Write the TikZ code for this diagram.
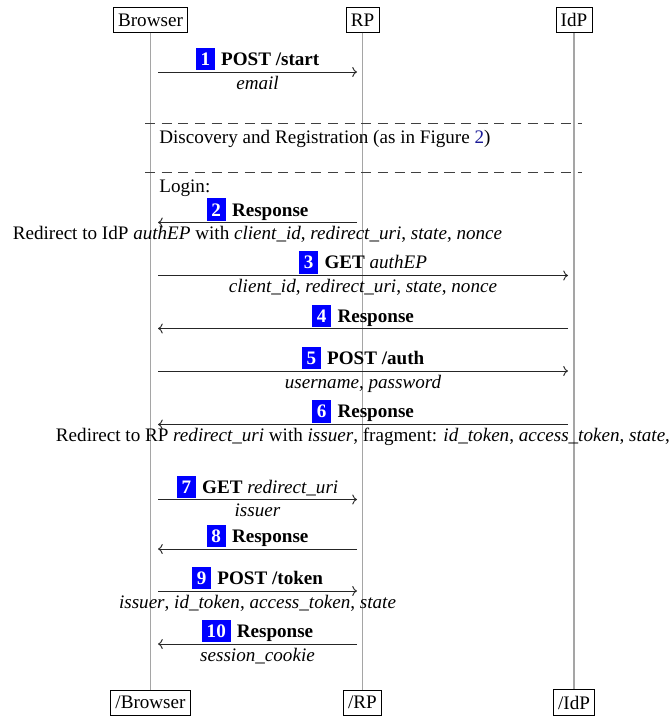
\documentclass[tikz,border=0pt]{standalone}
\usepackage{fontspec}
\setmainfont{Liberation Serif}
\usetikzlibrary{arrows.meta}
\definecolor{lifeline}{RGB}{165,165,165}
\definecolor{figref}{RGB}{25,25,150}
\newcommand{\stepnum}[1]{{\setlength{\fboxsep}{2.7pt}\colorbox{blue}{\textcolor{white}{\textbf{#1}}}}\hspace{3.3pt}}
\begin{document}
\begin{tikzpicture}[x=0.547pt, y=-0.547pt, font=\fontsize{10.45}{12.5}\selectfont,
  actor/.style={draw, line width=0.4pt, inner xsep=2.6pt, inner ysep=3.3pt, fill=white},
  life/.style={draw=lifeline, line width=0.6pt},
  msg/.style={draw=black!85, line width=0.5pt, -{To[length=2.6pt,width=5.5pt]}},
  head/.style={above, inner sep=0.6pt},
  body/.style={below, inner sep=1.5pt, text height=7.6pt, text depth=2pt},
  sep/.style={draw=black!75, line width=0.5pt, dash pattern=on 5.5pt off 3.6pt},
  note/.style={anchor=base west, inner sep=0pt}]
\useasboundingbox (0,0) rectangle (669,717);

% participants
\node[actor] (browser) at (150.5,20) {Browser};
\node[actor] (rp) at (362.5,20) {RP};
\node[actor] (idp) at (574,20) {IdP};
\node[actor] (browserEnd) at (150.5,702.5) {/Browser};
\node[actor] (rpEnd) at (362.5,702.5) {/RP};
\node[actor] (idpEnd) at (574,702.5) {/IdP};

% lifelines
\draw[life] (browser) -- (browserEnd);
\draw[life] (rp) -- (rpEnd);
\draw[life] (idp) -- (idpEnd);

% 1
\coordinate (m1a) at (158,72); \coordinate (m1b) at (357,72);
\draw[msg] (m1a) -- node[head]{\stepnum{1}\textbf{POST /start}} node[body]{\textit{email}} (m1b);

% discovery / login separators
\coordinate (d1a) at (145,123); \coordinate (d1b) at (582,123);
\draw[sep] (d1a) -- (d1b);
\node[note] (disc) at (159,143.5) {Discovery and Registration (as in Figure \textcolor{figref}{2})};
\coordinate (d2a) at (145,172); \coordinate (d2b) at (582,172);
\draw[sep] (d2a) -- (d2b);
\node[note] (login) at (159,193) {Login:};

% 2
\coordinate (m2a) at (357,222.5); \coordinate (m2b) at (158,222.5);
\draw[msg] (m2a) -- node[head]{\stepnum{2}\textbf{Response}}
  node[body]{Redirect to IdP \textit{authEP} with \textit{client\_id}, \textit{redirect\_uri}, \textit{state}, \textit{nonce}} (m2b);

% 3
\coordinate (m3a) at (158,275.5); \coordinate (m3b) at (568,275.5);
\draw[msg] (m3a) -- node[head]{\stepnum{3}\textbf{GET} \textit{authEP}}
  node[body]{\textit{client\_id}, \textit{redirect\_uri}, \textit{state}, \textit{nonce}} (m3b);

% 4
\coordinate (m4a) at (568,328.5); \coordinate (m4b) at (158,328.5);
\draw[msg] (m4a) -- node[head]{\stepnum{4}\textbf{Response}} (m4b);

% 5
\coordinate (m5a) at (158,371); \coordinate (m5b) at (568,371);
\draw[msg] (m5a) -- node[head]{\stepnum{5}\textbf{POST /auth}}
  node[body]{\textit{username}, \textit{password}} (m5b);

% 6
\coordinate (m6a) at (568,424.5); \coordinate (m6b) at (158,424.5);
\draw[msg] (m6a) -- node[head]{\stepnum{6}\textbf{Response}}
  node[body]{Redirect to RP \textit{redirect\_uri} with \textit{issuer}, fragment: \textit{id\_token}, \textit{access\_token}, \textit{state},} (m6b);

% 7
\coordinate (m7a) at (158,499.5); \coordinate (m7b) at (357,499.5);
\draw[msg] (m7a) -- node[head]{\stepnum{7}\textbf{GET} \textit{redirect\_uri}}
  node[body]{\textit{issuer}} (m7b);

% 8
\coordinate (m8a) at (357,549); \coordinate (m8b) at (158,549);
\draw[msg] (m8a) -- node[head]{\stepnum{8}\textbf{Response}} (m8b);

% 9
\coordinate (m9a) at (158,591); \coordinate (m9b) at (357,591);
\draw[msg] (m9a) -- node[head]{\stepnum{9}\textbf{POST /token}}
  node[body]{\textit{issuer}, \textit{id\_token}, \textit{access\_token}, \textit{state}} (m9b);

% 10
\coordinate (m10a) at (357,644); \coordinate (m10b) at (158,644);
\draw[msg] (m10a) -- node[head]{\stepnum{10}\textbf{Response}}
  node[body]{\textit{session\_cookie}} (m10b);
\end{tikzpicture}
\end{document}
